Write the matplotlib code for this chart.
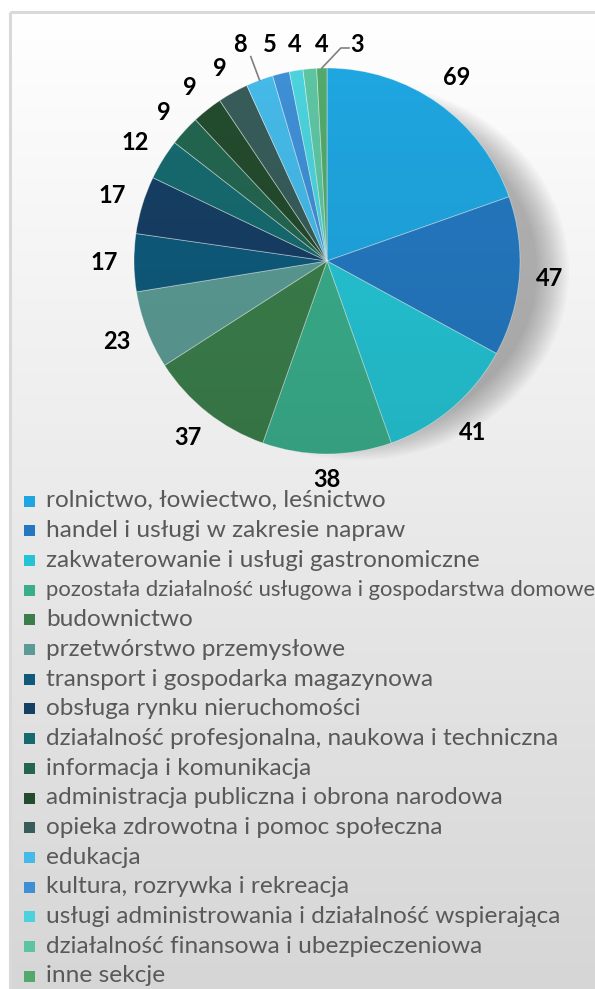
import matplotlib
matplotlib.use('Agg')
import matplotlib.pyplot as plt
import numpy as np
from matplotlib.patches import Rectangle, Ellipse, Circle
from matplotlib.colors import LinearSegmentedColormap

categories = [
    "rolnictwo, łowiectwo, leśnictwo",
    "handel i usługi w zakresie napraw",
    "zakwaterowanie i usługi gastronomiczne",
    "pozostała działalność usługowa i gospodarstwa domowe",
    "budownictwo",
    "przetwórstwo przemysłowe",
    "transport i gospodarka magazynowa",
    "obsługa rynku nieruchomości",
    "działalność profesjonalna, naukowa i techniczna",
    "informacja i komunikacja",
    "administracja publiczna i obrona narodowa",
    "opieka zdrowotna i pomoc społeczna",
    "edukacja",
    "kultura, rozrywka i rekreacja",
    "usługi administrowania i działalność wspierająca",
    "działalność finansowa i ubezpieczeniowa",
    "inne sekcje",
]
values = [69, 47, 41, 38, 37, 23, 17, 17, 12, 9, 9, 9, 8, 5, 4, 4, 3]
colors = ["#1fa5df", "#2478c0", "#25c4d4", "#3aae8b", "#3b7e4b", "#5c9b95",
          "#0f5a7b", "#163f64", "#166a6f", "#236550", "#234b2d", "#375c59",
          "#45b9e7", "#3f8fd5", "#4bd2dc", "#5dc4a1", "#52a96b"]

W, H = 595, 989
fig = plt.figure(figsize=(W / 100, H / 100), dpi=100)

# background panel with vertical gradient
bg = fig.add_axes([0, 0, 1, 1])
bg.set_xlim(0, W)
bg.set_ylim(H, 0)
bg.axis('off')
grad = np.linspace(0, 1, 256).reshape(-1, 1)
cmap = LinearSegmentedColormap.from_list('g', ['#ffffff', '#d6d6d6'])
bg.imshow(grad, extent=[10, W, H, 12], cmap=cmap, aspect='auto', origin='upper', zorder=0)
bg.plot([10, 10], [H, 12], color='#d9d9d9', lw=2.2, zorder=1, solid_capstyle='butt')
bg.plot([10, W], [12, 12], color='#d9d9d9', lw=2.2, zorder=1, solid_capstyle='butt')

# pie axes in pixel units
cx, cy, R, half = 327, 261, 193, 260
ax = fig.add_axes([(cx - half) / W, (H - cy - half) / H, 2 * half / W, 2 * half / H])
ax.patch.set_alpha(0)

# soft shadow (cast to lower right)
for k in range(16):
    s = 1 - k * 0.01
    ax.add_patch(Ellipse((30, -10), 2 * 212 * s, 2 * 189 * s,
                         color='black', alpha=0.018, lw=0, zorder=0))

wedges, texts = ax.pie(values, colors=colors, startangle=90, counterclock=False,
                       radius=R, labels=[str(v) for v in values], labeldistance=1.17,
                       textprops=dict(fontsize=17, fontweight='bold', color='black',
                                      family='Lato'),
                       wedgeprops=dict(edgecolor=(1, 1, 1, 0.45), linewidth=0.6))
for w in wedges:
    w.set_zorder(2)

# subtle vertical shading over the pie
shade = LinearSegmentedColormap.from_list(
    's', [(0, 0, 0, 0.0), (0, 0, 0, 0.09)])
im = ax.imshow(np.linspace(0, 1, 256).reshape(-1, 1), extent=[-R, R, -R, R],
               cmap=shade, origin='upper', aspect='auto', zorder=2.5)
clip = Circle((0, 0), R, transform=ax.transData)
im.set_clip_path(clip)

ax.set_xlim(-half, half)
ax.set_ylim(-half, half)
ax.axis('off')

total = sum(values)
cum = np.cumsum([0] + values)
def mid_angle(i):
    return np.deg2rad(90 - 360 * (cum[i] + values[i] / 2) / total)

# label placement just outside the rim
gap = 17
for i, t in enumerate(texts):
    a = mid_angle(i)
    ux, uy = np.cos(a), np.sin(a)
    w = 13 * len(t.get_text())
    h = 17
    d = R + gap + abs(ux) * w / 2 + abs(uy) * h / 2
    t.set_ha('center')
    t.set_va('center')
    t.set_position((d * ux, d * uy))

# small-slice labels in a row above the pie
row_y = 216
row_x = {12: -87, 13: -57, 14: -32, 15: -5, 16: 30}
for i, x in row_x.items():
    texts[i].set_position((x, row_y))

# leader line for "8"
a = mid_angle(12)
ax.plot([R * np.cos(a), R * 1.13 * np.cos(a)], [R * np.sin(a), R * 1.13 * np.sin(a)],
        color='#808080', lw=1.2, zorder=3)
# leader line for "3"
a = mid_angle(16)
x0, y0 = R * np.cos(a), R * np.sin(a)
tx, ty = texts[16].get_position()
ax.plot([x0, x0 + 19, tx - 8], [y0, ty - 3, ty - 3], color='#808080', lw=1.2, zorder=3)

# legend (manual rows)
y0 = 501
step = 29.7
for i, (lab, col) in enumerate(zip(categories, colors)):
    yy = y0 + i * step
    fs = 15.9 if i == 3 else 17.6
    bg.add_patch(Rectangle((24, yy - 5.5), 11, 11, facecolor=col, edgecolor='none', zorder=3))
    bg.text(46, yy + 6.3, lab, fontsize=fs, color='#595959', family='Lato',
            va='baseline', ha='left', zorder=3)

fig.savefig('out.png', dpi=100)
